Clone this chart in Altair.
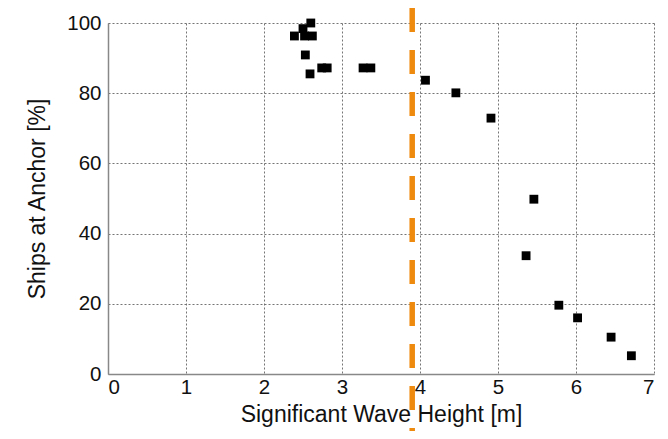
import altair as alt
import pandas as pd

wave_height = [2.39, 2.50, 2.60, 2.52, 2.62, 2.53, 2.59, 2.74, 2.81, 3.27, 3.37,
               4.07, 4.46, 4.91, 5.46, 5.36, 5.78, 6.02, 6.45, 6.71]
ships_pct = [96.3, 98.4, 100.0, 96.3, 96.3, 90.9, 85.5, 87.2, 87.2, 87.2, 87.2,
             83.7, 80.1, 72.9, 49.8, 33.7, 19.6, 16.0, 10.5, 5.2]
threshold = [3.9]

df = pd.DataFrame({"hs": wave_height, "pct": ships_pct})
thr = pd.DataFrame({"hs": threshold})

W, H = 546, 351
FONT = "Liberation Sans"

points = alt.Chart(df).mark_square(size=78, color="black", opacity=1).encode(
    x=alt.X("hs:Q", scale=alt.Scale(domain=[0, 7], nice=False),
            axis=alt.Axis(title="Significant Wave Height [m]", values=[0, 1, 2, 3, 4, 5, 6, 7],
                          format="d")),
    y=alt.Y("pct:Q", scale=alt.Scale(domain=[0, 100], nice=False),
            axis=alt.Axis(title="Ships at Anchor [%]", values=[0, 20, 40, 60, 80, 100])),
)

rule = alt.Chart(thr).mark_rule(color="#EE8A0E", strokeWidth=5.5, strokeDash=[24, 18]).encode(
    x="hs:Q",
    y=alt.value(-15),
    y2=alt.value(420),
)

chart = alt.layer(points, rule).properties(
    width=W, height=H,
    autosize=alt.AutoSizeParams(type="none"),
    padding={"left": 100, "top": 15, "right": 6, "bottom": 57},
).configure_view(stroke=None).configure_axis(
    grid=True,
    gridColor="#666",
    gridDash=[2, 2],
    gridWidth=1,
    gridOpacity=0.9,
    domainColor="#888",
    domainWidth=1.5,
    ticks=False,
    labelFont=FONT,
    titleFont=FONT,
    labelFontSize=20.5,
    titleFontSize=23,
    labelColor="#111",
    titleColor="#111",
    titleFontWeight="normal",
).configure_axisX(
    labelPadding=3,
    titlePadding=6,
).configure_axisY(
    labelPadding=7,
    titlePadding=17,
)

chart.save("out.html", embed_options={"renderer": "svg", "actions": False})
